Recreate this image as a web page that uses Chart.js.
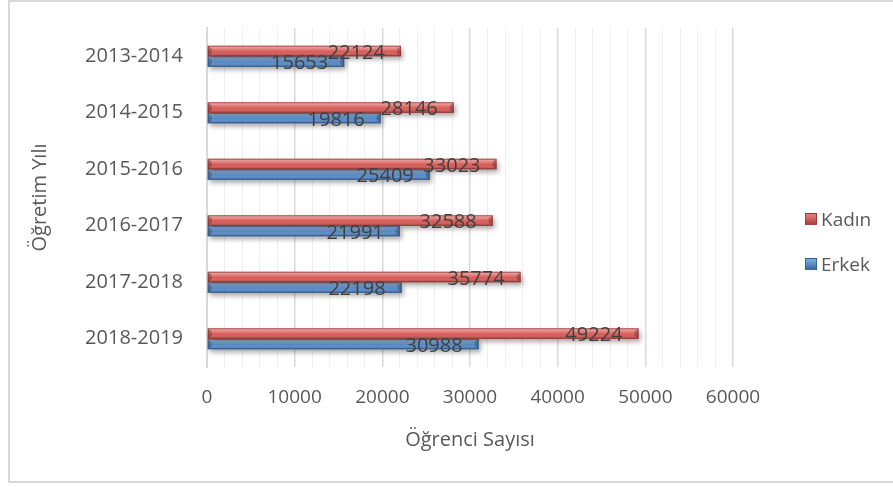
<!DOCTYPE html>
<html lang="tr">
<head>
<meta charset="utf-8">
<script src="https://cdn.jsdelivr.net/npm/chart.js@4.4.1/dist/chart.umd.min.js"></script>
<style>
  html, body { margin: 0; padding: 0; background: #fff; overflow: hidden; }
  #kutu { position: relative; width: 893px; height: 487px; }
  #cerceve {
    position: absolute; left: 8px; top: 0; width: 900px; height: 479px;
    border: 2px solid #d9d9d9; pointer-events: none;
  }
  #ogrenciChart { position: absolute; left: 0; top: 0; }
  #lejant {
    position: absolute; left: 805px; top: 205px;
    font-family: "Open Sans", sans-serif; font-size: 19px; color: #595959;
  }
  .satir { display: flex; align-items: center; height: 28px; margin-bottom: 17px; }
  .kare { width: 12px; height: 12px; margin-right: 4px; box-sizing: border-box; }
</style>
</head>
<body>
<div id="kutu">
  <canvas id="ogrenciChart" width="893" height="487"></canvas>
  <div id="cerceve"></div>
  <div id="lejant"></div>
</div>
<script>
// Öğretim yıllarına göre öğrenci sayıları
const yillar = ["2013-2014", "2014-2015", "2015-2016", "2016-2017", "2017-2018", "2018-2019"];
const kadin = [22124, 28146, 33023, 32588, 35774, 49224];
const erkek = [15653, 19816, 25409, 21991, 22198, 30988];

const yaziRengi = "#595959";
const font = "'Open Sans', sans-serif";

// Excel tarzı kabartma: gölge + üstte parlaklık, altta koyuluk
const kabartma = {
    id: "kabartma",
    beforeDatasetDraw(chart) {
        const ctx = chart.ctx;
        ctx.save();
        ctx.shadowColor = "rgba(0,0,0,0.35)";
        ctx.shadowBlur = 5;
        ctx.shadowOffsetX = 2;
        ctx.shadowOffsetY = 3;
    },
    afterDatasetDraw(chart, args) {
        const ctx = chart.ctx;
        ctx.restore();
        const renk = chart.data.datasets[args.index].kenar;
        args.meta.data.forEach(el => {
            const { x, y, base, height } = el.getProps(["x", "y", "base", "height"], true);
            const ust = y - height / 2;
            const alt = y + height / 2;
            const g = ctx.createLinearGradient(0, ust, 0, alt);
            g.addColorStop(0, "rgba(255,255,255,0.55)");
            g.addColorStop(0.3, "rgba(255,255,255,0.25)");
            g.addColorStop(0.55, "rgba(255,255,255,0)");
            g.addColorStop(1, "rgba(0,0,0,0.28)");
            ctx.save();
            ctx.fillStyle = g;
            ctx.fillRect(base, ust, x - base, height);
            // uç kısımlardaki eğim
            ctx.fillStyle = "rgba(0,0,0,0.22)";
            ctx.beginPath();
            ctx.moveTo(x, ust); ctx.lineTo(x, alt); ctx.lineTo(x - 4, alt - 3); ctx.lineTo(x - 4, ust + 3);
            ctx.closePath(); ctx.fill();
            ctx.beginPath();
            ctx.moveTo(base, ust); ctx.lineTo(base + 4, ust + 3); ctx.lineTo(base + 4, alt - 3); ctx.lineTo(base, alt);
            ctx.closePath(); ctx.fill();
            ctx.strokeStyle = renk;
            ctx.lineWidth = 1;
            ctx.strokeRect(base + 0.5, ust + 0.5, x - base - 1, height - 1);
            ctx.restore();
        });
    }
};

// Değer etiketleri (çubuk ucunun içinde)
const degerEtiketleri = {
    id: "degerEtiketleri",
    afterDatasetsDraw(chart) {
        const ctx = chart.ctx;
        ctx.save();
        ctx.font = "20px " + font;
        ctx.fillStyle = "#404040";
        ctx.textAlign = "right";
        ctx.textBaseline = "middle";
        chart.data.datasets.forEach((ds, i) => {
            chart.getDatasetMeta(i).data.forEach((el, j) => {
                ctx.fillText(String(ds.data[j]), el.x - 16, el.y + 2);
            });
        });
        ctx.restore();
    }
};

const canvas = document.getElementById("ogrenciChart");

const ogrenciChart = new Chart(canvas, {
    type: "bar",
    plugins: [kabartma, degerEtiketleri],
    data: {
        labels: yillar,
        datasets: [
            {
                label: "Kadın",
                data: kadin,
                backgroundColor: "#d95b57",
                kenar: "rgba(140,45,42,0.7)",
                lejantRenk: ["#e7827f", "#b0403c"],
                borderWidth: 0
            },
            {
                label: "Erkek",
                data: erkek,
                backgroundColor: "#5b8fcf",
                kenar: "rgba(40,80,130,0.7)",
                lejantRenk: ["#7eb0e6", "#3c6ba5"],
                borderWidth: 0
            }
        ]
    },
    options: {
        indexAxis: "y",
        responsive: false,
        animation: false,
        categoryPercentage: 0.37,
        barPercentage: 1,
        layout: { padding: { left: 0, top: 24, right: 160, bottom: 0 } },
        plugins: {
            legend: { display: false },
            tooltip: { enabled: false }
        },
        scales: {
            x: {
                min: 0,
                max: 60000,
                afterFit: s => { s.height = 120; },
                border: { display: false },
                grid: {
                    drawTicks: false,
                    color: c => (c.tick && c.tick.value % 10000 === 0) ? "#d9d9d9" : "#efefef",
                    lineWidth: c => (c.tick && c.tick.value % 10000 === 0) ? 1.5 : 1
                },
                ticks: {
                    stepSize: 2000,
                    autoSkip: false,
                    maxRotation: 0,
                    padding: 19,
                    color: yaziRengi,
                    font: { family: font, size: 19 },
                    callback: v => (v % 10000 === 0 ? String(v) : "")
                },
                title: {
                    display: true,
                    text: "Öğrenci Sayısı",
                    color: yaziRengi,
                    font: { family: font, size: 20 },
                    padding: { top: 0, bottom: 35 }
                }
            },
            y: {
                afterFit: s => { s.width = 207; },
                border: { display: true, color: "#d9d9d9", width: 2 },
                grid: { display: false },
                ticks: {
                    padding: 16,
                    color: yaziRengi,
                    font: { family: font, size: 20 }
                },
                title: {
                    display: true,
                    text: "Öğretim Yılı",
                    color: yaziRengi,
                    font: { family: font, size: 20 },
                    padding: { top: 28, bottom: 0 }
                }
            }
        }
    }
});

// Lejant, veri setlerinden üretiliyor
const lejant = document.getElementById("lejant");
ogrenciChart.data.datasets.forEach(ds => {
    const satir = document.createElement("div");
    satir.className = "satir";
    const kare = document.createElement("span");
    kare.className = "kare";
    kare.style.background = `linear-gradient(180deg, ${ds.lejantRenk[0]}, ${ds.lejantRenk[1]})`;
    kare.style.border = "1px solid " + ds.kenar;
    const yazi = document.createElement("span");
    yazi.textContent = ds.label;
    satir.appendChild(kare);
    satir.appendChild(yazi);
    lejant.appendChild(satir);
});
</script>
</body>
</html>
